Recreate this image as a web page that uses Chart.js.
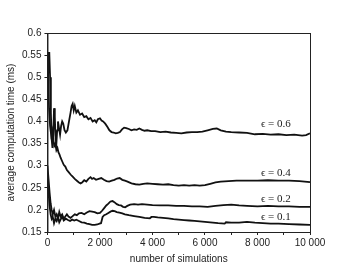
<!DOCTYPE html>
<html>
<head>
<meta charset="utf-8">
<script src="https://cdn.jsdelivr.net/npm/chart.js@4/dist/chart.umd.min.js"></script>
<style>
  html, body { margin: 0; padding: 0; background: #fff; }
  #wrap { width: 354px; height: 267px; }
</style>
</head>
<body>
<div id="wrap"><canvas id="chart" width="354" height="267"></canvas></div>
<script>
// [number of simulations, average computation time (ms)]
const eps06 = [
  [0, 0.50], [20, 0.54], [40, 0.555], [70, 0.555], [100, 0.50], [130, 0.42], [160, 0.36], [190, 0.34],
  [220, 0.37], [250, 0.43], [280, 0.41], [310, 0.36], [340, 0.35], [370, 0.38], [400, 0.40], [440, 0.385],
  [480, 0.37], [520, 0.39], [560, 0.40], [600, 0.395], [650, 0.38], [700, 0.375], [760, 0.38], [820, 0.40],
  [880, 0.42], [920, 0.435], [960, 0.44], [1000, 0.425], [1040, 0.435], [1100, 0.42], [1160, 0.425],
  [1240, 0.415], [1320, 0.418], [1400, 0.41], [1480, 0.412], [1560, 0.405], [1640, 0.408], [1720, 0.40],
  [1800, 0.403], [1860, 0.398], [1920, 0.405], [2000, 0.407], [2060, 0.402], [2120, 0.40], [2200, 0.395],
  [2280, 0.388], [2360, 0.38], [2440, 0.376], [2520, 0.375], [2600, 0.373], [2680, 0.374], [2760, 0.376],
  [2840, 0.382], [2920, 0.386], [3000, 0.385], [3100, 0.383], [3200, 0.380], [3300, 0.382], [3400, 0.381],
  [3500, 0.384], [3600, 0.381], [3700, 0.379], [3800, 0.380], [3950, 0.378], [4100, 0.378], [4300, 0.376],
  [4500, 0.377], [4700, 0.375], [4900, 0.374], [5100, 0.373], [5300, 0.375], [5500, 0.376], [5700, 0.376],
  [5900, 0.377], [6100, 0.380], [6300, 0.383], [6450, 0.384], [6600, 0.380], [6800, 0.377], [7000, 0.376],
  [7300, 0.375], [7600, 0.374], [7900, 0.371], [8200, 0.372], [8500, 0.370], [8800, 0.371], [9100, 0.369],
  [9400, 0.370], [9700, 0.368], [9850, 0.369], [10000, 0.373]
];

const eps04 = [
  [0, 0.54], [30, 0.50], [60, 0.43], [100, 0.39], [140, 0.37], [180, 0.38], [220, 0.36], [260, 0.345],
  [300, 0.35], [340, 0.335], [380, 0.34], [420, 0.33], [460, 0.325], [500, 0.318], [560, 0.31], [620, 0.302],
  [680, 0.298], [740, 0.29], [800, 0.286], [880, 0.28], [960, 0.275], [1040, 0.27], [1120, 0.266],
  [1200, 0.262], [1260, 0.26], [1320, 0.262], [1400, 0.267], [1480, 0.264], [1560, 0.27], [1640, 0.274],
  [1700, 0.27], [1760, 0.272], [1850, 0.268], [1950, 0.27], [2050, 0.272], [2150, 0.268], [2250, 0.265],
  [2350, 0.264], [2450, 0.266], [2550, 0.268], [2650, 0.271], [2750, 0.272], [2850, 0.268], [2950, 0.266],
  [3050, 0.264], [3200, 0.26], [3350, 0.258], [3500, 0.257], [3650, 0.259], [3800, 0.26], [4000, 0.259],
  [4200, 0.258], [4400, 0.257], [4600, 0.258], [4800, 0.256], [5000, 0.255], [5200, 0.256], [5400, 0.255],
  [5600, 0.256], [5800, 0.255], [6000, 0.256], [6200, 0.259], [6400, 0.262], [6600, 0.264], [6900, 0.265],
  [7200, 0.266], [7600, 0.266], [8000, 0.266], [8400, 0.267], [8800, 0.266], [9200, 0.266], [9600, 0.265],
  [10000, 0.263]
];

const eps02 = [
  [0, 0.30], [40, 0.27], [80, 0.24], [120, 0.215], [160, 0.20], [200, 0.19], [250, 0.20], [300, 0.185],
  [350, 0.19], [400, 0.18], [450, 0.195], [500, 0.185], [560, 0.19], [620, 0.18], [680, 0.185], [740, 0.19],
  [800, 0.185], [880, 0.182], [960, 0.186], [1040, 0.19], [1120, 0.188], [1200, 0.192], [1300, 0.193],
  [1400, 0.19], [1500, 0.194], [1600, 0.197], [1700, 0.196], [1800, 0.195], [1900, 0.192], [2000, 0.193],
  [2080, 0.198], [2160, 0.204], [2240, 0.21], [2320, 0.214], [2400, 0.219], [2480, 0.22], [2560, 0.217],
  [2640, 0.213], [2720, 0.211], [2800, 0.21], [2880, 0.207], [2960, 0.206], [3040, 0.209], [3150, 0.212],
  [3300, 0.213], [3450, 0.212], [3600, 0.213], [3800, 0.212], [4000, 0.211], [4300, 0.21], [4600, 0.21],
  [4900, 0.209], [5200, 0.209], [5500, 0.208], [5800, 0.208], [6100, 0.207], [6400, 0.209], [6700, 0.211],
  [7000, 0.212], [7300, 0.21], [7600, 0.209], [8000, 0.208], [8400, 0.209], [8800, 0.208], [9200, 0.208],
  [9600, 0.207], [10000, 0.207]
];

const eps01 = [
  [0, 0.27], [40, 0.24], [80, 0.21], [120, 0.19], [160, 0.18], [200, 0.185], [250, 0.17], [300, 0.18],
  [350, 0.175], [400, 0.185], [450, 0.172], [500, 0.178], [560, 0.185], [620, 0.176], [700, 0.18],
  [780, 0.177], [860, 0.175], [940, 0.178], [1020, 0.176], [1100, 0.178], [1200, 0.175], [1300, 0.172],
  [1400, 0.171], [1500, 0.169], [1600, 0.168], [1700, 0.166], [1800, 0.166], [1900, 0.167], [1980, 0.169],
  [2040, 0.170], [2100, 0.184], [2160, 0.188], [2240, 0.19], [2320, 0.193], [2400, 0.196], [2480, 0.198],
  [2560, 0.197], [2640, 0.195], [2740, 0.194], [2850, 0.192], [2950, 0.19], [3100, 0.188], [3300, 0.186],
  [3500, 0.184], [3700, 0.182], [3900, 0.181], [3960, 0.184], [4050, 0.184], [4200, 0.183], [4400, 0.182],
  [4600, 0.181], [4800, 0.179], [5000, 0.178], [5200, 0.177], [5400, 0.176], [5600, 0.175], [5800, 0.174],
  [6000, 0.173], [6200, 0.172], [6500, 0.17], [6750, 0.169], [6800, 0.172], [7000, 0.171], [7300, 0.171],
  [7600, 0.173], [7900, 0.171], [8200, 0.17], [8500, 0.169], [8800, 0.169], [9200, 0.168], [9600, 0.167],
  [10000, 0.166]
];

const seriesNames = ['\u03f5 = 0.6', '\u03f5 = 0.4', '\u03f5 = 0.2', '\u03f5 = 0.1'];
// where each curve name sits, in data units
const nameAt = [[8700, 0.394], [8700, 0.283], [8700, 0.2247], [8700, 0.1843]];

const xTicks = [0, 2000, 4000, 6000, 8000, 10000];
const yTicks = [0.15, 0.2, 0.25, 0.3, 0.35, 0.4, 0.45, 0.5, 0.55, 0.6];

function fmtThousands(v) {
  return String(v).replace(/\B(?=(\d{3})+(?!\d))/g, ' ');
}

const frame = {
  id: 'frame',
  afterDraw(chart) {
    const { ctx, chartArea: a, scales } = chart;
    ctx.save();
    ctx.strokeStyle = '#222';
    ctx.lineWidth = 1;
    ctx.strokeRect(a.left + 0.5, a.top + 0.5, a.right - a.left, a.bottom - a.top);
    ctx.fillStyle = '#222';
    ctx.font = "11px 'Liberation Serif'";
    ctx.textAlign = 'center';
    ctx.textBaseline = 'middle';
    seriesNames.forEach((name, i) => {
      const x = scales.x.getPixelForValue(nameAt[i][0]);
      const y = scales.y.getPixelForValue(nameAt[i][1]);
      ctx.fillText(name, x, y);
    });
    ctx.restore();
  }
};

const toPoints = arr => arr.map(p => ({ x: p[0], y: p[1] }));

new Chart(document.getElementById('chart'), {
  type: 'line',
  data: {
    datasets: [eps06, eps04, eps02, eps01].map((s, i) => ({
      label: seriesNames[i],
      data: toPoints(s),
      borderColor: '#111',
      borderWidth: 1.8,
      pointRadius: 0,
      tension: 0,
      fill: false
    }))
  },
  options: {
    responsive: false,
    animation: false,
    layout: { padding: { top: 33, right: 44, left: 5, bottom: 2 } },
    plugins: { legend: { display: false }, tooltip: { enabled: false } },
    scales: {
      x: {
        type: 'linear',
        min: 0, max: 10000,
        border: { color: '#222', width: 1 },
        grid: { drawOnChartArea: false, tickLength: 3, color: '#222' },
        afterBuildTicks: ax => { ax.ticks = [0,1000,2000,3000,4000,5000,6000,7000,8000,9000,10000].map(v => ({ value: v })); },
        ticks: {
          autoSkip: false, maxRotation: 0, padding: 2,
          color: '#222', font: { family: 'Liberation Sans', size: 10 },
          callback: v => xTicks.includes(v) ? fmtThousands(v) : ''
        },
        title: { display: true, text: 'number of simulations', color: '#222',
                 font: { family: 'Liberation Sans', size: 10 }, padding: { top: 2, bottom: 0 } }
      },
      y: {
        type: 'linear',
        min: 0.15, max: 0.6,
        border: { color: '#222', width: 1 },
        grid: { drawOnChartArea: false, tickLength: 3, color: '#222' },
        afterBuildTicks: ax => { ax.ticks = yTicks.map(v => ({ value: v })); },
        ticks: {
          autoSkip: false, padding: 3,
          color: '#222', font: { family: 'Liberation Sans', size: 10 },
          callback: v => String(Math.round(v * 100) / 100)
        },
        title: { display: true, text: 'average computation time (ms)', color: '#222',
                 font: { family: 'Liberation Sans', size: 10 }, padding: { top: 0, bottom: 2 } }
      }
    }
  },
  plugins: [frame]
});
</script>
</body>
</html>
